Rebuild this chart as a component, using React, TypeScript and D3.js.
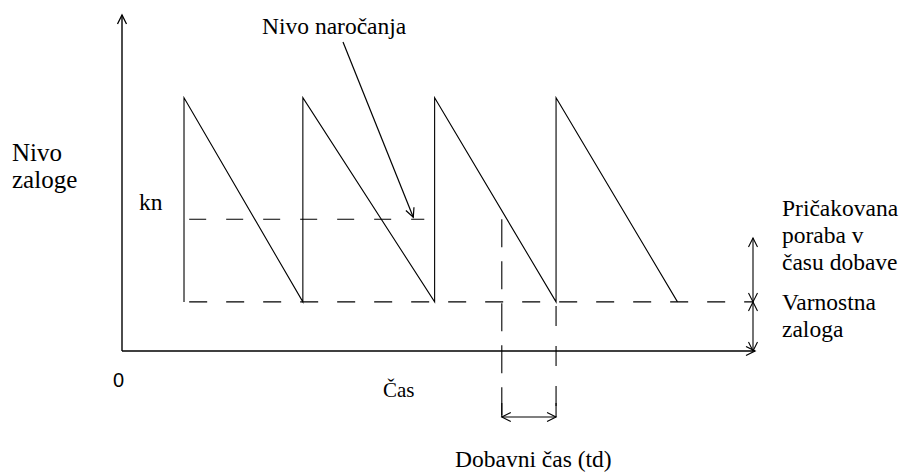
import React from "react";
import * as d3 from "d3";

// Inventory model (abstract units)
const orderTimes = [24, 70, 121, 168]; // moments of replenishment (vertical jumps)
const cycleEnd = 215; // last cycle reaches safety stock
const maxLevel = 98;
const reorderLevel = 51;
const safetyStock = 19;
const leadStart = 147; // order placed (reorder level reached)
const leadEnd = 168; // delivery
const reorderLineRange = [26, 117];
const safetyLineRange = [26, 244];
const axisMaxX = 245;
const axisMaxY = 130;

const W = 904;
const H = 473;

const x = d3.scaleLinear().domain([0, axisMaxX]).range([122, 755]);
const y = d3.scaleLinear().domain([0, axisMaxY]).range([351, 15]);

const serif = "Liberation Serif";

function Lbl({ x0, yb, children, size = 23.5 }: any) {
  return (
    <text x={x0} y={yb} fill="#000" style={{ fontFamily: serif, fontSize: size }}>
      {children}
    </text>
  );
}

export default function App() {
  const pts: [number, number][] = [];
  pts.push([orderTimes[0], safetyStock]);
  orderTimes.forEach((t, i) => {
    const next = i < orderTimes.length - 1 ? orderTimes[i + 1] : cycleEnd;
    pts.push([t, maxLevel]);
    pts.push([next, safetyStock]);
  });
  const line = d3.line<[number, number]>().x((d) => x(d[0])).y((d) => y(d[1]));
  const saw = line(pts) || "";

  const x0 = x(0), y0 = y(0);
  const xEnd = x(axisMaxX), yTop = y(axisMaxY);
  const ah = 9;
  const vArrowUp = (cx: number, cy: number) => `M${cx - 4.5},${cy + ah}L${cx},${cy}L${cx + 4.5},${cy + ah}`;
  const vArrowDown = (cx: number, cy: number) => `M${cx - 4.5},${cy - ah}L${cx},${cy}L${cx + 4.5},${cy - ah}`;
  const hArrowRight = (cx: number, cy: number) => `M${cx - ah},${cy - 4.5}L${cx},${cy}L${cx - ah},${cy + 4.5}`;
  const hArrowLeft = (cx: number, cy: number) => `M${cx + ah},${cy - 4.5}L${cx},${cy}L${cx + ah},${cy + 4.5}`;

  const ySafe = y(safetyStock);
  const yReorder = y(reorderLevel);
  const xLs = x(leadStart), xLe = x(leadEnd);
  const yLead = 417;
  const bx = 753;

  const ax1 = 343, ay1 = 42;
  const ax2 = x(reorderLineRange[1]) - 11, ay2 = yReorder - 2;
  const ang = Math.atan2(ay2 - ay1, ax2 - ax1);
  const hl = 10, spread = 0.45;
  const annHead = `M${ax2 - hl * Math.cos(ang - spread)},${ay2 - hl * Math.sin(ang - spread)}L${ax2},${ay2}L${ax2 - hl * Math.cos(ang + spread)},${ay2 - hl * Math.sin(ang + spread)}`;

  return (
    <svg width={W} height={H} style={{ position: "absolute", left: 0, top: 0, background: "#fff" }}>
      <g stroke="#000" fill="none">
        <line x1={x0} y1={y0} x2={x0} y2={yTop} strokeWidth={1.4} />
        <path d={vArrowUp(x0, yTop)} strokeWidth={1.3} />
        <line x1={x0} y1={y0} x2={xEnd} y2={y0} strokeWidth={1.4} />
        <path d={hArrowRight(xEnd, y0)} strokeWidth={1.3} />

        <path d={saw} strokeWidth={1.1} />

        <line x1={x(reorderLineRange[0])} x2={x(reorderLineRange[1])} y1={yReorder} y2={yReorder} strokeWidth={1.1} strokeDasharray="17,20" />
        <line x1={x(safetyLineRange[0])} x2={x(safetyLineRange[1])} y1={ySafe} y2={ySafe} strokeWidth={1.1} strokeDasharray="18,19" />

        <line x1={xLs} x2={xLs} y1={yReorder} y2={yLead} strokeWidth={1.1} strokeDasharray="28,14" />
        <line x1={xLe} x2={xLe} y1={ySafe + 4} y2={yLead} strokeWidth={1.1} strokeDasharray="20,20" />
        <line x1={xLs} x2={xLe} y1={yLead} y2={yLead} strokeWidth={1.1} />
        <path d={hArrowLeft(xLs, yLead)} strokeWidth={1.1} />
        <path d={hArrowRight(xLe, yLead)} strokeWidth={1.1} />
        <line x1={xLs} x2={xLs} y1={yLead - 14} y2={yLead} strokeWidth={1.1} />
        <line x1={xLe} x2={xLe} y1={yLead - 14} y2={yLead} strokeWidth={1.1} />

        <line x1={bx} x2={bx} y1={238} y2={ySafe} strokeWidth={1.1} />
        <path d={vArrowUp(bx, 238)} strokeWidth={1.1} />
        <path d={vArrowDown(bx, ySafe)} strokeWidth={1.1} />
        <line x1={bx} x2={bx} y1={ySafe} y2={y0} strokeWidth={1.1} />
        <path d={vArrowUp(bx, ySafe)} strokeWidth={1.1} />
        <path d={vArrowDown(bx, y0)} strokeWidth={1.1} />

        <line x1={ax1} y1={ay1} x2={ax2} y2={ay2} strokeWidth={1.2} />
        <path d={annHead} strokeWidth={1.2} />
      </g>

      <Lbl x0={262} yb={34}>Nivo naročanja</Lbl>
      <Lbl x0={12} yb={161} size={25}>Nivo</Lbl>
      <Lbl x0={12} yb={188} size={25}>zaloge</Lbl>
      <Lbl x0={139} yb={210}>kn</Lbl>
      <Lbl x0={383} yb={397} size={21}>Čas</Lbl>
      <Lbl x0={455} yb={467}>Dobavni čas (td)</Lbl>
      <Lbl x0={782} yb={216}>Pričakovana</Lbl>
      <Lbl x0={782} yb={243}>poraba v</Lbl>
      <Lbl x0={782} yb={270}>času dobave</Lbl>
      <Lbl x0={782} yb={310}>Varnostna</Lbl>
      <Lbl x0={782} yb={337}>zaloga</Lbl>
      <text x={113} y={387} fill="#000" style={{ fontFamily: "Liberation Sans", fontSize: 20 }}>0</text>
    </svg>
  );
}
